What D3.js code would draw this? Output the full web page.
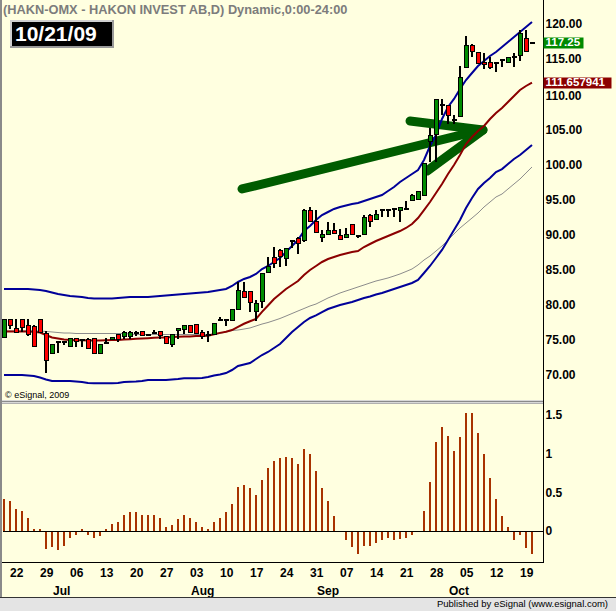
<!DOCTYPE html>
<html><head><meta charset="utf-8">
<script src="https://cdn.jsdelivr.net/npm/d3@7"></script>
<style>
html,body{margin:0;padding:0;background:#ffffe0;}
svg{display:block;font-family:"Liberation Sans",Arial,sans-serif;}
</style></head><body>
<svg id="c" width="616" height="611"></svg>
<script>
const dates = ["06-18","06-22","06-23","06-24","06-25","06-26","06-29","06-30","07-01","07-02","07-03",
"07-06","07-07","07-08","07-09","07-10","07-13","07-14","07-15","07-16","07-17",
"07-20","07-21","07-22","07-23","07-24","07-27","07-28","07-29","07-30","07-31",
"08-03","08-04","08-05","08-06","08-07","08-10","08-11","08-12","08-13","08-14",
"08-17","08-18","08-19","08-20","08-21","08-24","08-25","08-26","08-27","08-28",
"08-31","09-01","09-02","09-03","09-04","09-07","09-08","09-09","09-10","09-11",
"09-14","09-15","09-16","09-17","09-18","09-21","09-22","09-23","09-24","09-25",
"09-28","09-29","09-30","10-01","10-02","10-05","10-06","10-07","10-08","10-09",
"10-12","10-13","10-14","10-15","10-16","10-19","10-20","10-21"];

const open = [75.4,77.93,76.65,77.93,77.1,76.95,77.93,75.9,73.1,74.65,
74.7,74.0,75.2,75.0,75.1,75.2,73.1,74.45,75.1,75.8,
75.55,75.55,75.95,76.2,75.65,75.95,76.2,75.5,74.3,76.3,
76.5,77.0,77.25,76.1,75.7,75.8,77.8,77.85,77.75,79.4,
81.9,81.9,79.05,80.5,84.6,86.8,87.7,86.6,89.1,89.5,
89.1,93.4,91.9,89.6,89.95,90.55,89.9,89.6,91.45,89.85,
89.95,92.7,92.1,93.5,93.5,93.7,93.4,93.6,94.9,95.0,
95.6,103.2,104.2,108.45,108.4,106.3,106.8,113.8,117.0,115.9,
114.5,114.5,114.4,114.85,114.5,115.3,115.45,118.0,117.25];
const high = [78.0,78.0,77.93,78.0,77.93,77.1,78.0,76.3,74.3,74.8,
74.9,75.25,75.3,75.1,75.2,75.25,74.35,75.2,75.45,75.85,
76.2,76.2,76.3,76.25,75.75,76.4,76.25,75.55,75.75,76.7,
77.05,77.05,77.3,76.4,76.2,77.4,78.3,77.9,79.4,83.2,
83.2,82.0,80.7,84.6,86.8,88.2,87.9,88.05,89.3,89.6,
93.6,94.0,93.5,90.65,91.8,91.65,90.8,90.95,91.5,89.95,
92.8,92.9,93.5,93.55,93.55,93.75,94.0,94.8,95.85,96.15,
100.2,105.14,109.3,109.3,108.5,107.0,114.0,118.3,117.1,116.0,
115.9,115.3,114.45,114.9,115.3,115.8,119.1,119.1,117.25];
const low = [75.3,76.6,76.0,76.1,75.6,74.0,76.0,70.25,73.0,73.1,
74.3,73.95,74.0,74.0,73.8,73.05,73.05,74.4,75.05,74.7,
75.1,75.1,75.5,75.5,75.5,75.9,75.1,74.45,74.0,75.1,
75.9,75.95,75.8,75.1,74.75,75.75,77.75,77.0,77.7,79.3,
81.0,79.0,77.7,79.5,84.5,85.3,85.4,85.5,88.1,87.3,
89.0,91.8,90.2,89.0,89.9,90.05,89.25,89.55,90.0,89.55,
89.9,91.1,92.05,92.55,92.55,92.55,91.85,93.55,94.85,94.95,
95.55,100.38,100.4,107.04,105.8,105.8,106.7,113.7,115.3,114.35,
113.55,113.55,113.1,113.9,114.45,113.9,114.75,116.0,117.25];
const close = [77.93,77.1,76.1,76.8,75.7,74.1,76.08,72.0,74.3,74.7,
74.7,75.2,74.75,75.0,73.8,73.1,74.3,74.5,75.4,75.1,
76.0,76.0,76.0,75.6,75.7,76.0,75.6,74.5,75.7,76.65,
77.0,76.0,75.85,75.55,75.7,77.35,77.85,77.8,79.35,82.0,
81.1,80.3,80.2,84.4,85.5,85.9,86.9,87.95,89.15,88.75,
93.5,91.9,90.25,89.95,90.55,90.1,89.3,90.0,90.05,89.85,
92.5,91.85,92.8,93.5,93.5,93.7,93.9,93.6,95.6,96.1,
100.15,104.05,109.25,108.5,107.0,106.3,112.4,117.0,116.05,114.4,
114.2,113.8,114.4,114.85,115.25,115.2,118.65,116.1,117.25];

const upperBand = [82.25,82.25,82.25,82.25,82.25,82.18,82.11,81.97,81.75,81.54,
81.40,81.25,81.18,81.11,80.97,80.90,80.90,80.90,80.90,80.97,
81.04,81.11,81.11,81.11,81.11,81.18,81.25,81.32,81.40,81.47,
81.54,81.61,81.68,81.75,81.82,81.97,82.11,82.25,82.68,83.25,
83.68,83.96,84.39,85.10,85.53,86.10,86.67,87.52,88.38,89.23,
90.51,91.23,92.08,92.79,93.22,93.65,93.93,94.15,94.36,94.50,
94.79,95.07,95.36,95.64,96.21,96.78,97.49,98.06,98.63,99.20,
100.63,102.62,104.19,106.47,108.18,109.32,110.74,112.02,113.02,114.02,
114.73,115.44,116.01,116.72,117.44,118.15,118.86,119.57,120.28];
const lowerBand = [70.00,70.00,70.00,70.00,69.93,69.86,69.64,69.36,69.15,69.15,
69.15,69.15,69.07,69.00,68.86,68.82,68.82,68.82,68.82,68.86,
69.00,69.05,69.07,69.15,69.29,69.29,69.29,69.29,69.36,69.43,
69.53,69.53,69.53,69.57,69.72,69.93,70.07,70.28,70.71,71.28,
71.50,71.71,72.28,72.85,73.28,73.85,74.42,75.27,76.13,76.84,
77.55,78.12,78.48,78.97,79.40,79.69,79.97,80.19,80.40,80.68,
80.97,81.18,81.47,81.68,81.97,82.25,82.54,82.82,83.11,83.53,
84.53,85.53,86.67,87.81,89.23,90.66,92.08,93.79,95.21,96.50,
97.35,98.06,98.92,99.34,100.06,100.77,101.34,102.05,102.76];
const redAvg = [76.2,76.2,76.2,76.2,76.2,76.15,76.05,75.7,75.34,75.2,
75.05,75.0,74.95,74.95,74.9,74.9,74.9,74.95,75.0,75.0,
75.05,75.1,75.15,75.2,75.25,75.3,75.35,75.35,75.4,75.45,
75.5,75.5,75.55,75.55,75.6,75.8,76.0,76.15,76.4,76.85,
77.3,77.65,78.0,79.0,79.9,80.83,81.54,82.25,82.82,83.39,
84.25,84.96,85.53,86.1,86.52,86.81,87.09,87.31,87.52,87.66,
88.23,88.66,89.09,89.44,89.8,90.16,90.51,90.94,91.51,92.36,
93.5,94.64,95.93,97.21,98.63,99.91,101.34,102.9,103.9,104.76,
105.47,106.47,107.32,108.03,108.89,109.74,110.6,111.17,111.66];
const greyAvg = [76.27,76.27,76.27,76.27,76.27,76.27,76.27,76.20,76.13,76.05,
75.98,75.98,75.91,75.91,75.91,75.91,75.91,75.91,75.91,75.91,
75.91,75.84,75.77,75.77,75.77,75.77,75.77,75.77,75.77,75.77,
75.77,75.77,75.77,75.77,75.77,75.84,75.91,76.13,76.34,76.41,
76.55,76.70,76.98,77.26,77.48,77.76,78.05,78.40,78.76,79.12,
79.47,79.83,80.11,80.54,80.97,81.32,81.68,81.97,82.25,82.54,
82.82,83.11,83.39,83.60,83.82,84.10,84.39,84.74,85.10,85.67,
86.38,86.95,87.66,88.38,89.23,90.09,90.94,91.65,92.36,93.08,
93.93,94.64,95.36,95.78,96.50,97.21,97.92,98.78,99.63];
const osc = [0.42,0.39,0.29,0.26,0.17,0.02,0.02,-0.23,-0.21,-0.25,
-0.20,-0.095,-0.05,0.02,-0.05,-0.095,-0.06,0.02,0.095,0.12,
0.21,0.25,0.24,0.21,0.21,0.21,0.17,0.056,0.08,0.16,
0.21,0.17,0.12,0.056,0.02,0.11,0.17,0.24,0.35,0.57,
0.60,0.55,0.47,0.66,0.81,0.91,0.94,0.96,0.94,0.87,
1.06,1.00,0.78,0.56,0.39,0.20,-0.005,-0.12,-0.21,-0.30,
-0.20,-0.20,-0.16,-0.12,-0.095,-0.12,-0.108,-0.095,-0.056,-0.017,
0.26,0.64,1.155,1.34,1.23,1.04,1.22,1.52,1.52,1.27,
0.99,0.69,0.42,0.20,0.056,-0.12,-0.056,-0.22,-0.30];

const priceTicks = [70,75,80,85,90,95,100,105,110,115,120];
const oscTicks = [0,0.5,1,1.5];
const dayTicks = ["06-22","06-29","07-06","07-13","07-20","07-27","08-03","08-10","08-17","08-24","08-31","09-07","09-14","09-21","09-28","10-05","10-12","10-19"];
const monthTicks = [["07-01","Jul"],["08-03","Aug"],["09-01","Sep"],["10-01","Oct"]];
const titleText = "(HAKN-OMX - HAKON INVEST AB,D) Dynamic,0:00-24:00";
const dateLabel = "10/21/09";
const lastLabel = "117.25";
const avgLabel = "111.657941";
// hand-drawn arrow annotation: [bar index, price]
const arrowShaft = [[39.67,96.5],[79.3,104.85]];
const arrowUpper = [[67.67,106.18],[79.83,104.9]];
const arrowLower = [[70.5,99.06],[79.83,104.9]];

const svg = d3.select("#c");
const W = 616, H = 611;
const axisX = 543.5;
const n = dates.length;
const x = d3.scaleLinear().domain([0, n-1]).range([4, 532]);
const y = d3.scaleLinear().domain([70,120]).range([375, 24]);
const yo = d3.scaleLinear().domain([0,1.5]).range([531, 415]);

svg.append("rect").attr("width",W).attr("height",H).attr("fill","#ffffe0");

const defs = svg.append("defs");
defs.append("clipPath").attr("id","mainClip").append("rect").attr("x",2).attr("y",0).attr("width",axisX-2).attr("height",400);
defs.append("clipPath").attr("id","oscClip").append("rect").attr("x",2).attr("y",404).attr("width",axisX-2).attr("height",158);

// title
svg.append("text").attr("x",3).attr("y",14).attr("font-size",12.8).attr("font-weight","bold")
  .attr("fill","#7c7c7c").text(titleText);

const main = svg.append("g").attr("clip-path","url(#mainClip)");

// arrow annotation
const arrowLine = d3.line().x(d=>x(d[0])).y(d=>y(d[1]));
[arrowShaft, arrowUpper, arrowLower].forEach(seg=>{
  main.append("path").attr("d",arrowLine(seg)).attr("fill","none")
    .attr("stroke","#005c00").attr("stroke-width",9).attr("stroke-linecap","round");
});

// study lines
const line = arr => d3.line().x((d,i)=>x(i)).y(d=>y(d))(arr);
main.append("path").attr("d",line(greyAvg)).attr("fill","none").attr("stroke","#8c8c8c").attr("stroke-width",1);
main.append("path").attr("d",line(upperBand)).attr("fill","none").attr("stroke","#000099").attr("stroke-width",2);
main.append("path").attr("d",line(lowerBand)).attr("fill","none").attr("stroke","#000099").attr("stroke-width",2);
main.append("path").attr("d",line(redAvg)).attr("fill","none").attr("stroke","#8b0000").attr("stroke-width",2);

// candles
const idx = d3.range(n);
const cg = main.append("g").attr("shape-rendering","crispEdges");
cg.selectAll(".wick").data(idx.filter(i=>high[i]>low[i])).join("rect")
  .attr("x",i=>Math.round(x(i))-1).attr("width",2)
  .attr("y",i=>y(high[i])).attr("height",i=>Math.max(1,y(low[i])-y(high[i])))
  .attr("fill","#000");
const isDoji = i => Math.abs(close[i]-open[i]) < 0.08;
cg.selectAll(".body").data(idx.filter(i=>!isDoji(i))).join("rect")
  .attr("x",i=>Math.round(x(i))-2).attr("width",4)
  .attr("y",i=>y(Math.max(open[i],close[i])))
  .attr("height",i=>Math.max(1,Math.abs(y(open[i])-y(close[i]))))
  .attr("fill",i=>close[i]>open[i]?"#008c00":"#ff0000")
  .attr("stroke","#000").attr("stroke-width",1);
cg.selectAll(".doji").data(idx.filter(isDoji)).join("rect")
  .attr("x",i=>Math.round(x(i))-2.5).attr("width",5)
  .attr("y",i=>Math.round(y(close[i]))-1).attr("height",2)
  .attr("fill","#000");

// copyright
svg.append("text").attr("x",5).attr("y",398).attr("font-size",9).attr("fill","#000").text("\u00a9 eSignal, 2009");

// panel separator
svg.append("rect").attr("x",0).attr("y",400).attr("width",axisX).attr("height",4).attr("fill","#d8d8d8");
svg.append("line").attr("x1",0).attr("x2",axisX).attr("y1",401.5).attr("y2",401.5).attr("stroke","#8a8a8a").attr("stroke-width",1);
svg.append("line").attr("x1",0).attr("x2",axisX).attr("y1",403.5).attr("y2",403.5).attr("stroke","#b0b0b0").attr("stroke-width",1);

// oscillator
const og = svg.append("g").attr("clip-path","url(#oscClip)").attr("shape-rendering","crispEdges");
og.selectAll("rect").data(idx).join("rect")
  .attr("x",i=>Math.round(x(i))-1).attr("width",2)
  .attr("y",i=>Math.min(yo(osc[i]),yo(0)))
  .attr("height",i=>Math.max(1,Math.abs(yo(osc[i])-yo(0))))
  .attr("fill","#a83200");
svg.append("line").attr("x1",3).attr("x2",axisX).attr("y1",yo(0)+0.5).attr("y2",yo(0)+0.5)
  .attr("stroke","#000").attr("stroke-width",1);

// frame
svg.append("line").attr("x1",1).attr("x2",1).attr("y1",0).attr("y2",597).attr("stroke","#8a8a8a").attr("stroke-width",2);
svg.append("line").attr("x1",2).attr("x2",axisX).attr("y1",562.5).attr("y2",562.5).attr("stroke","#000").attr("stroke-width",1);
svg.append("line").attr("x1",axisX).attr("x2",axisX).attr("y1",0).attr("y2",563).attr("stroke","#000").attr("stroke-width",1);

// right axes
const pa = svg.append("g").attr("transform",`translate(${axisX},0)`)
  .call(d3.axisRight(y).tickValues(priceTicks).tickFormat(d3.format(".2f")).tickSize(0).tickPadding(2));
pa.select(".domain").remove();
pa.selectAll("text").attr("font-size",12).attr("font-weight","bold").attr("fill","#000")
  .attr("font-family","Liberation Sans, Arial, sans-serif");
pa.selectAll(".tick").filter(d=>d===110).select("text").attr("dy","0.42em");
const oa = svg.append("g").attr("transform",`translate(${axisX},0)`)
  .call(d3.axisRight(yo).tickValues(oscTicks).tickFormat(d3.format("")).tickSize(0).tickPadding(2));
oa.select(".domain").remove();
oa.selectAll("text").attr("font-size",12).attr("font-weight","bold").attr("fill","#000")
  .attr("font-family","Liberation Sans, Arial, sans-serif");

// value markers
function marker(val, label, color, w){
  const yy = Math.round(y(val));
  svg.append("rect").attr("x",axisX).attr("y",yy-5.5).attr("width",w).attr("height",11).attr("fill",color);
  svg.append("text").attr("x",axisX+2).attr("y",yy).attr("dy","0.3em").attr("font-size",11.5)
    .attr("font-weight","bold").attr("fill","#fff").text(label);
}
marker(close[n-1], lastLabel, "#008a00", 40);
marker(redAvg[n-1], avgLabel, "#8b0000", 68);

// date axis labels
const xa = svg.append("g").attr("font-size",12).attr("font-weight","bold").attr("fill","#000");
xa.selectAll(".d").data(dayTicks).join("text")
  .attr("x",d=>x(dates.indexOf(d))).attr("y",577).text(d=>d.slice(3));
xa.selectAll(".m").data(monthTicks).join("text")
  .attr("x",d=>x(dates.indexOf(d[0]))+1).attr("y",595).text(d=>d[1]);

// date box
svg.append("rect").attr("x",10).attr("y",20).attr("width",104).attr("height",28).attr("fill","#9a9a9a");
svg.append("rect").attr("x",10).attr("y",20).attr("width",102).attr("height",26).attr("fill","#d0d0d0");
svg.append("rect").attr("x",12).attr("y",22).attr("width",100).attr("height",24).attr("fill","#000");
svg.append("text").attr("x",15).attr("y",41).attr("font-size",21).attr("font-weight","bold").attr("fill","#fff").text(dateLabel);

// footer
svg.append("rect").attr("x",0).attr("y",597).attr("width",W).attr("height",14).attr("fill","#e4e4e4");
svg.append("line").attr("x1",0).attr("x2",W).attr("y1",597.5).attr("y2",597.5).attr("stroke","#333").attr("stroke-width",1);
svg.append("text").attr("x",608).attr("y",607).attr("text-anchor","end").attr("font-size",9.5).attr("fill","#000")
  .text("Published by eSignal (www.esignal.com)");
</script>
</body></html>
